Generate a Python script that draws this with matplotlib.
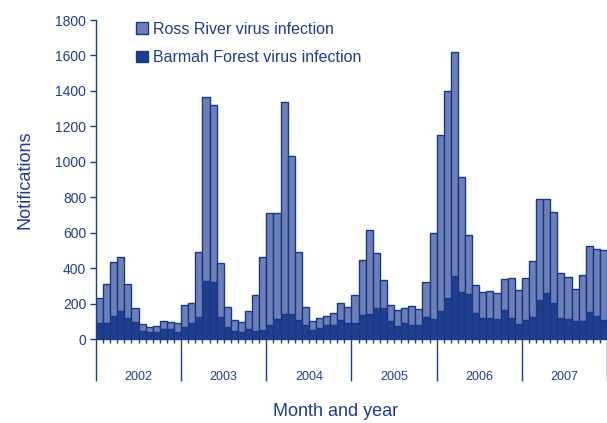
import numpy as np
from matplotlib import pyplot as plt

plt.rcParams['font.family'] = ['Liberation Sans', 'DejaVu Sans']

years = ['2002', '2003', '2004', '2005', '2006', '2007']

# Totali mensili (Ross River + Barmah Forest)
total = [230, 309, 433, 461, 309, 173, 85, 68, 72, 100, 94, 90,
         190, 201, 489, 1367, 1319, 427, 182, 107, 98, 158, 248, 461,
         711, 711, 1337, 1031, 489, 180, 103, 121, 130, 145, 205, 179,
         248, 444, 613, 484, 331, 192, 162, 175, 188, 171, 320, 596,
         1151, 1400, 1618, 912, 585, 305, 267, 271, 261, 340, 344, 277,
         344, 440, 790, 788, 717, 371, 352, 284, 359, 523, 508, 500]

# Barmah Forest virus infection
barmah = [88, 88, 132, 160, 121, 96, 45, 40, 40, 56, 55, 41,
          70, 92, 126, 329, 320, 122, 66, 45, 38, 56, 47, 49,
          79, 111, 143, 143, 109, 77, 49, 60, 77, 77, 107, 88,
          88, 135, 143, 173, 173, 102, 75, 88, 79, 77, 126, 111,
          160, 230, 357, 263, 256, 148, 121, 117, 111, 162, 117, 85,
          107, 122, 222, 258, 201, 117, 111, 102, 102, 150, 132, 107]

ross = np.array(total) - np.array(barmah)

blue = '#1f3c88'
light = '#6e7fb6'
dark = '#1f3f8c'
edge = '#15388a'

fig = plt.figure(figsize=(6.07, 4.23), dpi=100)
ax = fig.add_axes([96 / 607, 84 / 423, 511 / 607, 319 / 423])

x = np.arange(len(total))
ax.bar(x, barmah, width=1.0, color=dark, edgecolor=edge, linewidth=1.0,
       label='Barmah Forest virus infection')
ax.bar(x, ross, bottom=barmah, width=1.0, color=light, edgecolor=edge,
       linewidth=1.0, label='Ross River virus infection')

ax.set_xlim(-0.5, len(total) - 0.5)
ax.set_ylim(0, 1800)
ax.set_yticks(np.arange(0, 1801, 200))

# Separatori degli anni e tacche mensili
ax.set_xticks(np.arange(-0.5, len(total), 12))
ax.set_xticklabels([])
ax.set_xticks(np.arange(-0.5, len(total), 1), minor=True)
ax.tick_params(axis='x', which='major', length=30, width=1.0, color=blue)
ax.tick_params(axis='x', which='minor', length=3, width=1.0, color=blue)
ax.tick_params(axis='y', length=4, width=1.0, color=blue, labelcolor=blue,
               labelsize=10, pad=3)

for i, yr in enumerate(years):
    ax.text(i * 12 + 5.5, -0.119, yr, transform=ax.get_xaxis_transform(),
            ha='center', va='center', color=blue, fontsize=9)

for s in ['top', 'right']:
    ax.spines[s].set_visible(False)
for s in ['left', 'bottom']:
    ax.spines[s].set_color(blue)
    ax.spines[s].set_linewidth(1.0)

ax.set_ylabel('Notifications', color=blue, fontsize=13, labelpad=16)
fig.text(0.552, 0.028, 'Month and year', color=blue, fontsize=13,
         ha='center', va='center')

handles, labels = ax.get_legend_handles_labels()
leg = ax.legend(handles[::-1], labels[::-1], loc='upper left',
                bbox_to_anchor=(0.05, 1.04), frameon=False, fontsize=11.5,
                handlelength=0.75, handleheight=0.75, handletextpad=0.3,
                labelspacing=0.85)
for t in leg.get_texts():
    t.set_color(blue)

fig.savefig('out.png', dpi=100)
